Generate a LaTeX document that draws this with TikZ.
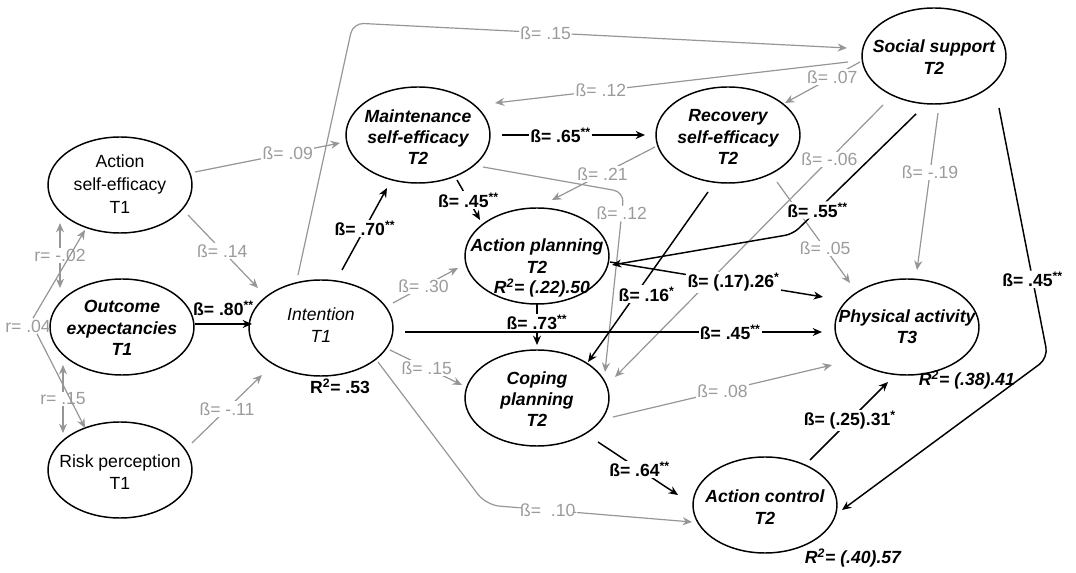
\documentclass[tikz,border=0pt]{standalone}
\usepackage{fontspec}
\setmainfont{Liberation Sans}
\usetikzlibrary{arrows.meta,calc,shapes.geometric}
\definecolor{lg}{RGB}{150,150,150}
\definecolor{lgt}{RGB}{155,155,155}
\begin{document}
\begin{tikzpicture}[x=0.75pt,y=-0.75pt,
  ellbox/.style={draw=black, line width=1.1pt, ellipse, minimum width=108pt, minimum height=72pt, inner sep=0pt},
  ntext/.style={align=center, inner sep=0pt, font=\fontsize{13.2}{16}\selectfont},
  bitext/.style={align=center, inner sep=0pt, font=\fontsize{13.2}{16}\selectfont\bfseries\itshape},
  garrow/.style={draw=lg, line width=0.9pt, -{Stealth[length=7pt,width=6pt]}},
  gdarrow/.style={draw=lg, line width=0.9pt, {Stealth[length=7pt,width=6pt]}-{Stealth[length=7pt,width=6pt]}},
  barrow/.style={draw=black, line width=1.1pt, -{Stealth[length=7pt,width=6pt]}},
  glabel/.style={fill=white, text=lgt, inner sep=1pt, font=\fontsize{13.2}{16}\selectfont},
  blabel/.style={fill=white, text=black, inner sep=1pt, font=\fontsize{13.2}{16}\selectfont\bfseries},
  rtwoup/.style={inner sep=0pt, font=\fontsize{13.2}{16}\selectfont\bfseries},
  rtwoit/.style={inner sep=0pt, font=\fontsize{13.2}{16}\selectfont\bfseries\itshape},
]
\useasboundingbox (0,0) rectangle (1076,573);

% ellipses
\node[ellbox] (ase) at (120,185) {};
\node[ellbox] (oe) at (122,327) {};
\node[ellbox] (rp) at (120,470) {};
\node[ellbox] (int) at (321,328) {};
\node[ellbox] (ms) at (418,135) {};
\node[ellbox] (rs) at (728,135) {};
\node[ellbox] (ss) at (934,56) {};
\node[ellbox] (ap) at (537,256) {};
\node[ellbox] (cp) at (537,398) {};
\node[ellbox] (pa) at (907,327) {};
\node[ellbox] (ac) at (765,505) {};

% texts
\node[ntext] (ase-t) at (120,184) {Action\\[1.5pt]self-efficacy\\[1.5pt]T1};
\node[bitext] (oe-t) at (122,328) {Outcome\\expectancies\\T1};
\node[ntext] (rp-t) at (120,472) {Risk perception\\T1};
\node[ntext, font=\fontsize{13.2}{16}\selectfont\itshape] (int-t) at (321,325) {Intention\\T1};
\node[bitext] (ms-t) at (418,137) {Maintenance\\self-efficacy\\T2};
\node[bitext] (rs-t) at (728,137) {Recovery\\self-efficacy\\T2};
\node[bitext] (ss-t) at (934,57) {Social support\\T2};
\node[bitext] (ap-t) at (537,256) {Action planning\\T2};
\node[bitext] (cp-t) at (537,399) {Coping\\planning\\T2};
\node[bitext] (pa-t) at (907,327) {Physical activity\\T3};
\node[bitext] (ac-t) at (765,507) {Action control\\T2};

% R2 labels
\node[rtwoup] (r2i) at (340,386) {R\textsuperscript{2}= .53};
\node[rtwoit] (r2ap) at (542,288) {R\textsuperscript{2}= (.22).50};
\node[rtwoit] (r2pa) at (967,380) {R\textsuperscript{2}= (.38).41};
\node[rtwoit] (r2ac) at (853,558) {R\textsuperscript{2}= (.40).57};

% grey paths
\draw[garrow] ($(ase)+(75,-13)$) -- node[glabel,pos=.64]{ß= .09} ($(ms)+(-78,8)$);
\draw[garrow] ($(ase)+(68,30)$) -- node[glabel,pos=.49]{ß= .14} ($(int)+(-63,-40)$);
\draw[garrow] ($(rp)+(72,-27)$) -- node[glabel,pos=.5]{ß= -.11} ($(int)+(-59,47)$);
\draw[gdarrow] ($(ase)+(-60,38)$) -- node[glabel,pos=.5]{r= -.02} ($(oe)+(-62,-39)$);
\draw[gdarrow] ($(oe)+(-59,38)$) -- node[glabel,pos=.5]{r= .15} ($(rp)+(-57,-37)$);
\node[glabel, fill=none] (r04) at (28,326) {r= .04};
\draw[garrow] ($(r04.north)+(5,0)$) -- ($(ase)+(-35,45)$);
\draw[garrow] ($(r04.south)+(9,0)$) -- ($(rp)+(-35,-42)$);

\coordinate (k7) at (353,23);
\draw[garrow, rounded corners=8pt] ($(int)+(-23,-53)$) -- (k7) -- node[glabel,pos=.39]{ß= .15} ($(ss)+(-87,-8)$);
\draw[garrow] ($(ss)+(-86,6)$) -- node[glabel,pos=.70]{ß= .12} ($(ms)+(77,-32)$);
\draw[garrow] ($(ss)+(-74,6)$) -- node[glabel,pos=.37]{ß= .07} ($(rs)+(57,-32)$);
\draw[garrow] ($(rs)+(-73,12)$) -- node[glabel,pos=.51]{ß= .21} ($(ap)+(15,-56)$);
\coordinate (k11) at (624,192);
\draw[garrow, rounded corners=8pt] ($(ms)+(65,32)$) -- (k11) -- node[glabel,pos=.12]{ß= .12} ($(cp)+(68,-26)$);
\draw[garrow] ($(int)+(72,-25)$) -- node[glabel,pos=.47]{ß= .30} ($(ap)+(-79,12)$);
\draw[garrow] ($(int)+(69,22)$) -- node[glabel,pos=.51]{ß= .15} ($(cp)+(-75,-13)$);
\coordinate (k14) at (486,505);
\draw[garrow, rounded corners=10pt] ($(int)+(57,34)$) -- (k14) -- node[glabel,pos=.3]{ß= \ .10} ($(ac)+(-73,17)$);
\draw[garrow] ($(cp)+(76,19)$) -- node[glabel,pos=.5]{ß= .08} ($(pa)+(-75,38)$);
\draw[garrow] ($(ss)+(-51,49)$) -- node[glabel,pos=.2]{ß= -.06} ($(cp)+(78,-21)$);
\draw[garrow] ($(ss)+(4,57)$) -- node[glabel,pos=.38]{ß= -.19} ($(pa)+(10,-57)$);
\draw[garrow] ($(rs)+(49,47)$) -- node[glabel,pos=.66]{ß= .05} ($(pa)+(-57,-44)$);

% black paths
\draw[barrow] ($(oe)+(73,-3)$) -- node[blabel, fill=none, above=5pt]{ß= .80\textsuperscript{**}} ($(int)+(-69,-4)$);
\draw[barrow] ($(int)+(21,-58)$) -- node[blabel,pos=.51]{ß= .70\textsuperscript{**}} ($(ms)+(-31,53)$);
\draw[barrow] ($(ms)+(84,0)$) -- node[blabel,pos=.41]{ß= .65\textsuperscript{**}} ($(rs)+(-83,0)$);
\draw[barrow] ($(ms)+(39,45)$) -- node[blabel,pos=.5]{ß= .45\textsuperscript{**}} ($(ap)+(-57,-36)$);
\draw[barrow] ($(ap)+(0,47)$) -- node[blabel,pos=.46]{ß= .73\textsuperscript{**}} ($(cp)+(0,-53)$);
\draw[barrow] ($(int)+(84,4)$) -- node[blabel,pos=.78]{ß= .45\textsuperscript{**}} ($(pa)+(-85,5)$);
\draw[barrow] ($(ap)+(73,6)$) -- node[blabel,pos=.58]{ß= (.17).26\textsuperscript{*}} ($(pa)+(-84,-30)$);
\coordinate (k26) at (793,234);
\draw[barrow, rounded corners=6pt] ($(ss)+(-18,58)$) -- node[blabel,pos=.8]{ß= .55\textsuperscript{**}} (k26) -- ($(ap)+(75,9)$);
\draw[barrow] ($(rs)+(-20,57)$) -- node[blabel,pos=.6,xshift=8pt]{ß= .16\textsuperscript{*}} ($(cp)+(51,-36)$);
\draw[barrow] ($(cp)+(61,44)$) -- node[blabel,pos=.52]{ß= .64\textsuperscript{**}} ($(ac)+(-87,-10)$);
\draw[barrow] ($(ac)+(45,-45)$) -- node[blabel,pos=.51]{ß= (.25).31\textsuperscript{*}} ($(pa)+(-19,55)$);
\coordinate (k30) at (1048,358);
\draw[barrow, rounded corners=8pt] ($(ss)+(65,52)$) -- node[blabel,pos=.685]{ß= .45\textsuperscript{**}} (k30) -- ($(ac)+(77,5)$);
\end{tikzpicture}
\end{document}
